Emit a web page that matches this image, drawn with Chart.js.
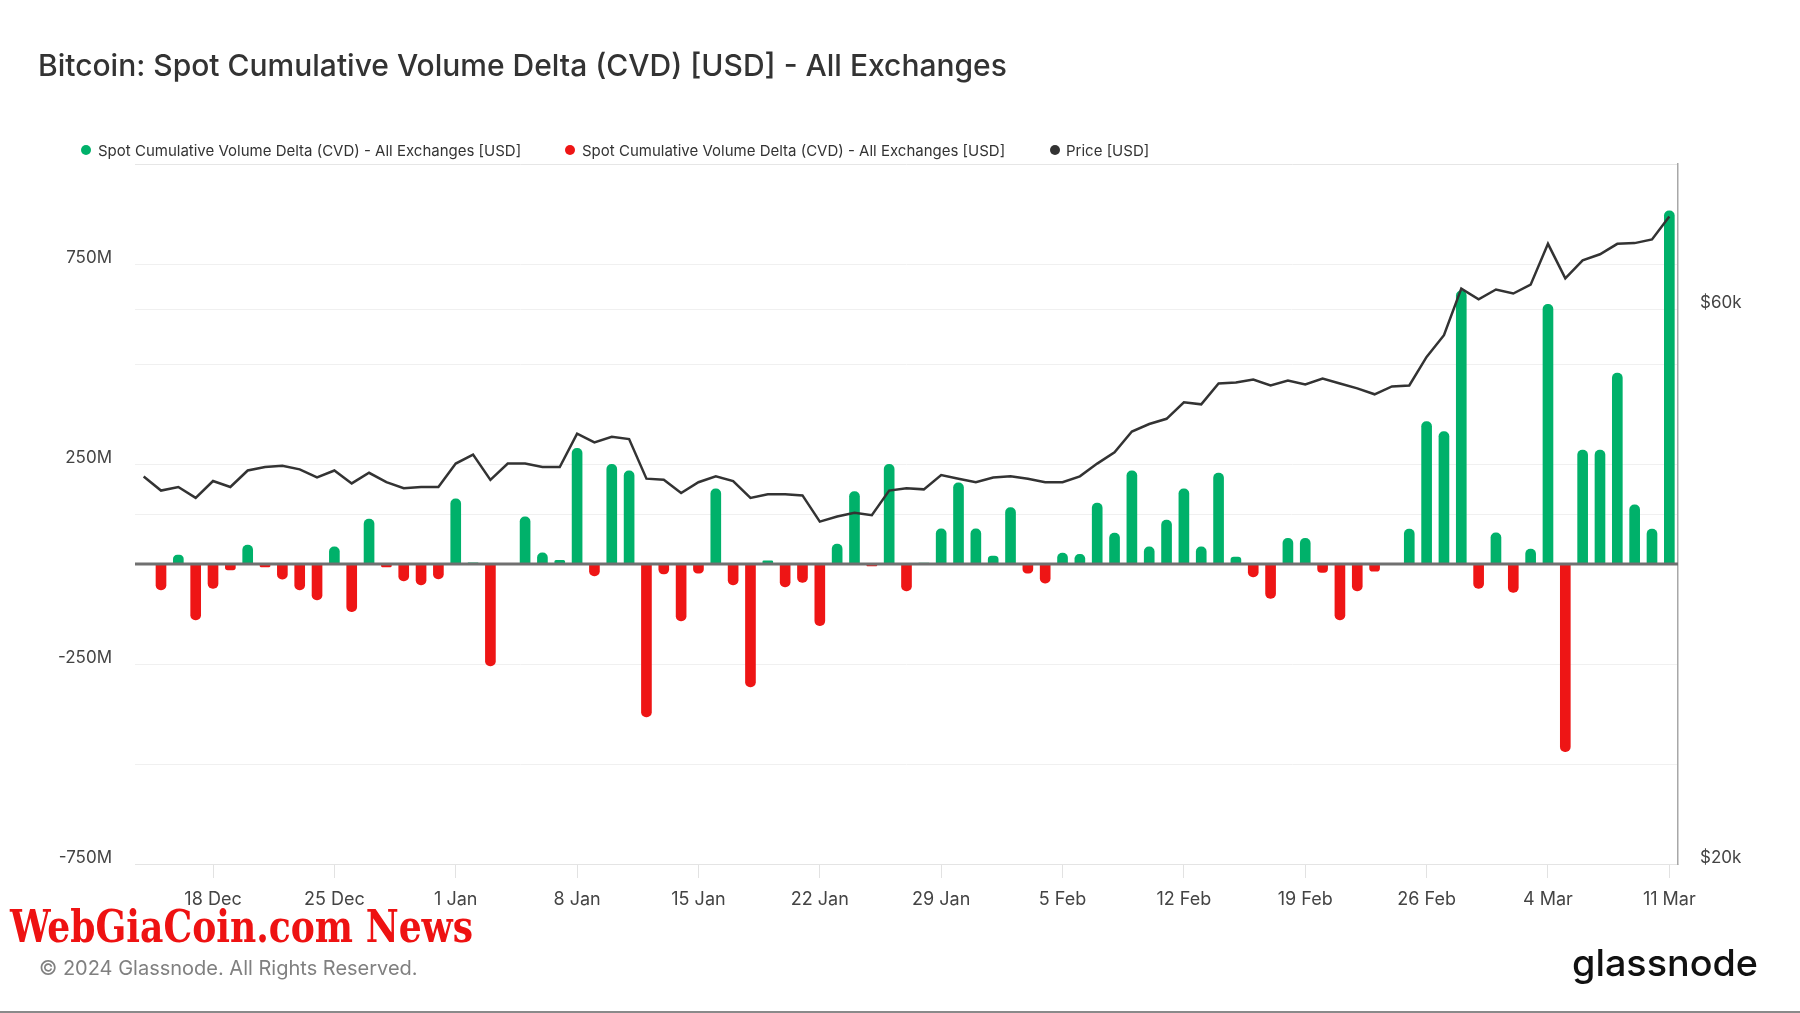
<!DOCTYPE html>
<html><head><meta charset="utf-8">
<script src="https://cdn.jsdelivr.net/npm/chart.js@4.4.1/dist/chart.umd.min.js"></script>
<style>
html,body{margin:0;padding:0;background:#fff;}
body{width:1800px;height:1013px;position:relative;overflow:hidden;font-family:Inter,"Noto Sans",sans-serif;}
#wrap{position:absolute;left:0;top:0;width:1800px;height:1013px;}
#title{position:absolute;left:38px;top:50px;font-size:30px;line-height:30px;color:#333;font-weight:500;white-space:nowrap;}
.leg{position:absolute;top:143px;font-size:15px;line-height:15px;color:#333;white-space:nowrap;}
.dot{position:absolute;width:10px;height:10px;border-radius:50%;top:145px;}
#copy{position:absolute;left:39px;top:958px;font-size:20px;line-height:20px;color:#808080;white-space:nowrap;}
#wm{position:absolute;left:10px;top:904px;font-family:"DejaVu Serif Condensed","DejaVu Serif",serif;font-weight:bold;font-size:45px;line-height:45px;color:#ee1212;white-space:nowrap;transform-origin:0 50%;}
#logo{position:absolute;left:1572px;top:944px;font-size:37px;line-height:37px;font-weight:500;color:#111;white-space:nowrap;transform-origin:0 50%;}
#bline{position:absolute;left:0;top:1011px;width:1800px;height:2px;background:#8a8a8a;}
</style></head>
<body>
<div id="wrap"><canvas id="c" width="1800" height="1013"></canvas></div>
<div id="title">Bitcoin: Spot Cumulative Volume Delta (CVD) [USD] - All Exchanges</div>
<div class="dot" style="left:81px;background:#00b16a"></div>
<div class="leg" style="left:98px">Spot Cumulative Volume Delta (CVD) - All Exchanges [USD]</div>
<div class="dot" style="left:565px;background:#ee1515"></div>
<div class="leg" style="left:582px">Spot Cumulative Volume Delta (CVD) - All Exchanges [USD]</div>
<div class="dot" style="left:1050px;background:#333"></div>
<div class="leg" style="left:1066px">Price [USD]</div>
<div id="wm">WebGiaCoin.com News</div>
<div id="copy">© 2024 Glassnode. All Rights Reserved.</div>
<div id="logo">glassnode</div>
<div id="bline"></div>
<script>
// Daily spot CVD change (millions USD), 14 Dec 2023 – 11 Mar 2024
const cvdValues = [
  0, -65, 22, -140, -61, -15, 47, -7, -38, -65,
  -90, 43, -119, 112, -7, -42, -52, -37, 163, 3,
  -255, 0, 118, 28, 9, 289, -30, 249, 233, -382,
  -25, -142, -23, 188, -52, -307, 8, -57, -46, -154,
  50, 181, -5, 249, -67, 2, 88, 203, 88, 20,
  141, -23, -48, 27, 24, 152, 77, 233, 43, 110,
  188, 43, 227, 17, -32, -86, 64, 64, -21, -140,
  -67, -18, 1, 87, 356, 331, 683, -61, 78, -71,
  37, 649, -469, 285, 285, 477, 148, 87, 883
];
// BTC price (USD)
const priceValues = [
  43080, 41900, 42200, 41300, 42700, 42200, 43600, 43900, 44000, 43700,
  43000, 43600, 42500, 43400, 42600, 42100, 42200, 42200, 44200, 45000,
  42800, 44200, 44200, 43900, 43900, 46900, 46100, 46600, 46400, 42900,
  42800, 41700, 42600, 43100, 42700, 41300, 41600, 41600, 41500, 39400,
  39800, 40100, 39900, 41900, 42100, 42000, 43200, 42900, 42600, 43000,
  43100, 42900, 42600, 42600, 43100, 44200, 45200, 47100, 47800, 48300,
  49900, 49700, 51800, 51900, 52200, 51600, 52100, 51700, 52300, 51800,
  51300, 50700, 51500, 51600, 54600, 57000, 62500, 61200, 62400, 61900,
  63000, 68300, 63800, 66100, 66900, 68300, 68400, 68900, 72100
];
const monthNames = ['Jan','Feb','Mar','Apr','May','Jun','Jul','Aug','Sep','Oct','Nov','Dec'];
const categories = [];
for (let d = new Date(Date.UTC(2023, 11, 14)); categories.length < cvdValues.length; d.setUTCDate(d.getUTCDate() + 1)) {
  categories.push(d.getUTCDate() + ' ' + monthNames[d.getUTCMonth()]);
}
const tickLabels = ['18 Dec','25 Dec','1 Jan','8 Jan','15 Jan','22 Jan','29 Jan','5 Feb','12 Feb','19 Feb','26 Feb','4 Mar','11 Mar'];
const leftTickLabels = [750, 250, -250, -750];
const rightTickValues = [20000, 40000, 60000, 80000];
const rightTickLabels = {20000: '$20k', 60000: '$60k'};

const greenVals = cvdValues.map(v => v > 0 ? v : null);
const redVals = cvdValues.map(v => v < 0 ? v : null);

const GREEN = '#00b16a', RED = '#ee1515';
const xFont = {family: 'Inter', size: 18};
const yFont = {family: 'Inter', size: 17};

const zeroLine = {
  id: 'zeroLine',
  afterDatasetsDraw(chart) {
    const y = chart.scales.y.getPixelForValue(0);
    const {left, right} = chart.chartArea;
    const c = chart.ctx;
    c.save(); c.strokeStyle = '#707070'; c.lineWidth = 3;
    c.beginPath(); c.moveTo(left, y); c.lineTo(right, y); c.stroke(); c.restore();
  }
};

new Chart(document.getElementById('c'), {
  type: 'bar',
  data: {
    labels: categories,
    datasets: [
      {type: 'line', label: 'Price [USD]', data: priceValues, yAxisID: 'y1', borderColor: '#333', borderWidth: 2.5,
       pointRadius: 0, tension: 0, order: 0, fill: false},
      {label: 'Spot Cumulative Volume Delta (CVD) - All Exchanges [USD]', data: greenVals, backgroundColor: GREEN,
       yAxisID: 'y', barThickness: 10, borderRadius: 5, borderSkipped: 'start', grouped: false, order: 1},
      {label: 'Spot Cumulative Volume Delta (CVD) - All Exchanges [USD]', data: redVals, backgroundColor: RED,
       yAxisID: 'y', barThickness: 10, borderRadius: 5, borderSkipped: 'start', grouped: false, order: 1}
    ]
  },
  options: {
    responsive: false, animation: false, devicePixelRatio: 1,
    layout: {padding: {top: 164, left: 0, right: 0, bottom: 0}},
    plugins: {legend: {display: false}, title: {display: false}, tooltip: {enabled: false}},
    scales: {
      x: {
        type: 'category', offset: true,
        grid: {drawOnChartArea: false, drawTicks: true, tickLength: 14, offset: false,
               color: ctx => tickLabels.includes(categories[ctx.index]) ? '#e2e2e2' : 'rgba(0,0,0,0)'},
        border: {display: true, color: '#e4e4e4', width: 1},
        ticks: {autoSkip: false, maxRotation: 0, padding: 11, color: '#444', font: xFont,
                callback: (v, i) => tickLabels.includes(categories[i]) ? categories[i] : ''},
        afterFit: s => { s.height = 149; }
      },
      y: {
        position: 'left', min: -750, max: 1000,
        grid: {drawTicks: false, color: ctx => ctx.tick && ctx.tick.value === 1000 ? '#e6e6e6' : '#f0f0f0'},
        border: {display: false},
        ticks: {stepSize: 250, padding: 23, labelOffset: -6, color: '#444', font: yFont,
                callback: v => leftTickLabels.includes(v) ? v + 'M' : ''},
        afterFit: s => { s.width = 135; }
      },
      y1: {
        type: 'logarithmic', position: 'right', min: 20000, max: 80000,
        grid: {drawTicks: false, drawOnChartArea: true,
               color: ctx => (ctx.tick && (ctx.tick.value === 40000 || ctx.tick.value === 60000)) ? '#f0f0f0' : 'rgba(0,0,0,0)'},
        border: {display: true, color: '#a8a8a8', width: 1.5},
        afterBuildTicks: s => { s.ticks = rightTickValues.map(v => ({value: v})); },
        ticks: {padding: 22, labelOffset: -6, color: '#444', font: yFont,
                callback: v => rightTickLabels[v] || ''},
        afterFit: s => { s.width = 122; }
      }
    }
  },
  plugins: [zeroLine]
});

// fit watermark and logo to their measured widths
function fitWidth(id, target) {
  const el = document.getElementById(id);
  const w = el.getBoundingClientRect().width;
  if (w > 0) el.style.transform = 'scaleX(' + (target / w) + ')';
}
fitWidth('wm', 463);
fitWidth('logo', 186);
</script>
</body></html>
